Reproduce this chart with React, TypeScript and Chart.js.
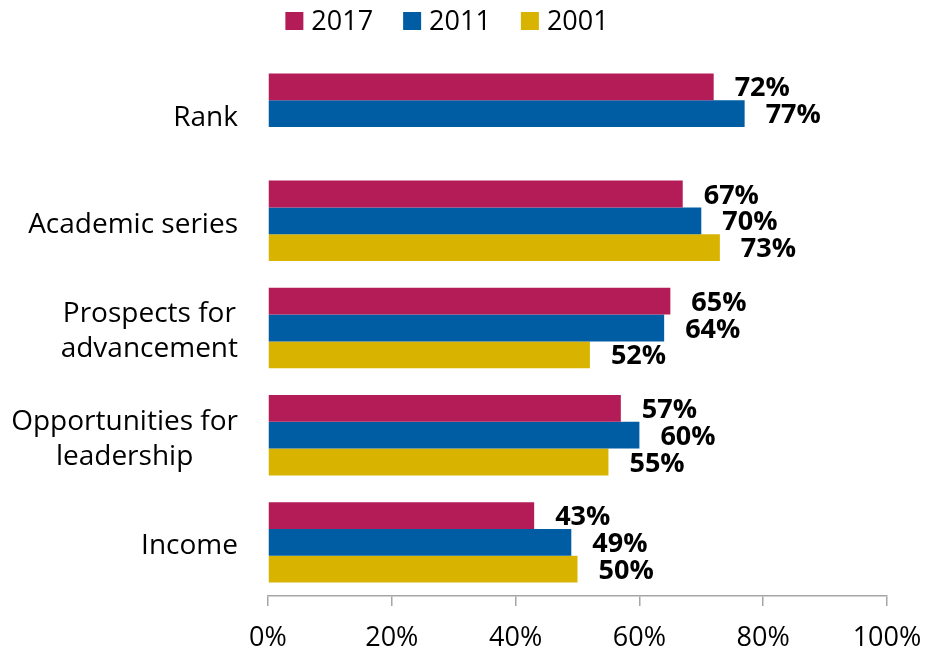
import React, { useEffect, useRef } from "react";
import { Chart, registerables } from "chart.js";

Chart.register(...registerables);

const categories: string[][] = [
  ["Rank"],
  ["Academic series"],
  ["Prospects for", "advancement"],
  ["Opportunities for", "leadership"],
  ["Income"],
];
const seriesNames = ["2017", "2011", "2001"];
const values2017 = [72, 67, 65, 57, 43];
const values2011 = [77, 70, 64, 60, 49];
const values2001: (number | null)[] = [null, 73, 52, 55, 50];
const xTicks = [0, 20, 40, 60, 80, 100];

const COLORS = ["#B41C57", "#005DA3", "#D8B300"];
const FONT = "'Open Sans', 'Noto Sans', sans-serif";

const valueLabels = {
  id: "valueLabels",
  afterDatasetsDraw(chart: any) {
    const ctx = chart.ctx;
    ctx.save();
    ctx.font = `bold 27px ${FONT}`;
    ctx.fillStyle = "#000";
    ctx.textAlign = "left";
    ctx.textBaseline = "middle";
    chart.data.datasets.forEach((ds: any, di: number) => {
      const meta = chart.getDatasetMeta(di);
      meta.data.forEach((el: any, i: number) => {
        const v = ds.data[i];
        if (v === null || v === undefined) return;
        ctx.fillText(`${v}%`, el.x + 21, el.y + 2);
      });
    });
    ctx.restore();
  },
};

const categoryLabels = {
  id: "categoryLabels",
  afterDraw(chart: any) {
    const ctx = chart.ctx;
    const scale = chart.scales.y;
    const right = chart.chartArea.left - 30;
    const lh = 35;
    ctx.save();
    ctx.font = `28px ${FONT}`;
    ctx.fillStyle = "#000";
    ctx.textAlign = "center";
    ctx.textBaseline = "middle";
    (chart.data.labels as string[][]).forEach((lines, i) => {
      const y = scale.getPixelForValue(i);
      const w = Math.max(...lines.map((l) => ctx.measureText(l).width));
      const cx = right - w / 2;
      const y0 = y - ((lines.length - 1) * lh) / 2 + 4;
      lines.forEach((l, j) => ctx.fillText(l, cx, y0 + j * lh));
    });
    ctx.restore();
  },
};

const topLegend = {
  id: "topLegend",
  afterDraw(chart: any) {
    const ctx = chart.ctx;
    const box = 18;
    const gap = 8;
    const itemGap = 30;
    const centerX = 447;
    const cy = 21;
    ctx.save();
    ctx.font = `27px ${FONT}`;
    ctx.textBaseline = "middle";
    ctx.textAlign = "left";
    const items = chart.data.datasets.map((ds: any) => ({
      label: ds.label,
      color: ds.backgroundColor,
      w: box + gap + ctx.measureText(ds.label).width,
    }));
    const total =
      items.reduce((s: number, it: any) => s + it.w, 0) + itemGap * (items.length - 1);
    let x = centerX - total / 2;
    items.forEach((it: any) => {
      ctx.fillStyle = it.color;
      ctx.fillRect(x, cy - box / 2, box, box);
      ctx.fillStyle = "#000";
      ctx.fillText(it.label, x + box + gap, cy + 1);
      x += it.w + itemGap;
    });
    ctx.restore();
  },
};

export default function App() {
  const ref = useRef<HTMLCanvasElement | null>(null);
  useEffect(() => {
    document.body.style.margin = "0";
    if (!ref.current) return;
    const chart = new Chart(ref.current, {
      type: "bar",
      data: {
        labels: categories,
        datasets: [
          { label: seriesNames[0], data: values2017, backgroundColor: COLORS[0] },
          { label: seriesNames[1], data: values2011, backgroundColor: COLORS[1] },
          { label: seriesNames[2], data: values2001, backgroundColor: COLORS[2] },
        ],
      },
      options: {
        indexAxis: "y",
        animation: false,
        responsive: true,
        maintainAspectRatio: false,
        layout: { padding: { top: 60, right: 41, bottom: 0, left: 0 } },
        datasets: {
          bar: { barPercentage: 1, categoryPercentage: 0.75, borderWidth: 0 },
        },
        plugins: {
          legend: { display: false },
          tooltip: { enabled: false },
        },
        scales: {
          x: {
            type: "linear",
            min: 0,
            max: 100,
            afterBuildTicks: (scale: any) => {
              scale.ticks = xTicks.map((v) => ({ value: v }));
            },
            afterFit: (scale: any) => {
              scale.height = 57;
              scale.paddingRight = 0;
              scale.paddingLeft = 0;
            },
            ticks: {
              padding: 16,
              color: "#000",
              font: { family: FONT, size: 27 },
              callback: (v: any) => `${v}%`,
              maxRotation: 0,
            },
            grid: {
              display: true,
              drawOnChartArea: false,
              drawTicks: true,
              tickLength: 10,
              color: "#A6A6A6",
              lineWidth: 1.5,
            },
            border: { display: true, color: "#A6A6A6", width: 1.5 },
          },
          y: {
            type: "category",
            ticks: { display: false },
            grid: { display: false },
            border: { display: false },
            afterFit: (scale: any) => {
              scale.width = 268;
            },
          },
        },
      },
      plugins: [valueLabels, categoryLabels, topLegend],
    });
    return () => chart.destroy();
  }, []);
  return (
    <div style={{ width: 928, height: 653, position: "relative" }}>
      <canvas ref={ref} />
    </div>
  );
}
